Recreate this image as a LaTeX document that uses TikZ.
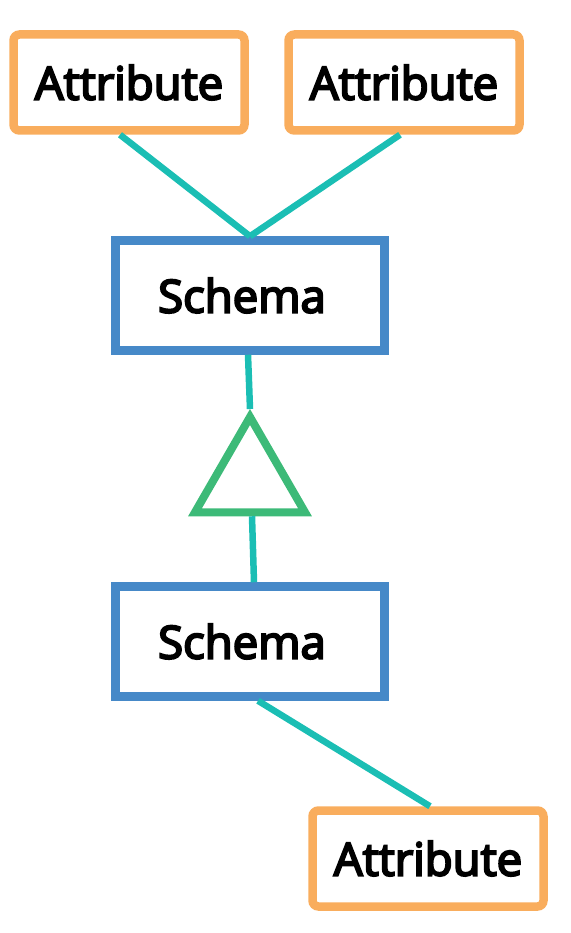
\documentclass[tikz,border=0pt]{standalone}
\usepackage{fontspec}
\setmainfont{Open Sans}
\newfontfamily\labelfont[FakeBold=4.5]{Open Sans}
\usepackage{tikz}
\usetikzlibrary{positioning,shapes.geometric}

\definecolor{attrorange}{RGB}{249,173,93}
\definecolor{schemablue}{RGB}{70,137,200}
\definecolor{linkteal}{RGB}{27,190,180}
\definecolor{isagreen}{RGB}{61,186,120}

\begin{document}
\begin{tikzpicture}[
  x=1pt, y=-1pt, font=\labelfont\fontsize{45.5}{50}\selectfont,
  attr/.style={rectangle, rounded corners=6pt, draw=attrorange, line width=8.5pt, fill=white, minimum width=231pt, minimum height=96pt, inner sep=0pt},
  schema/.style={rectangle, draw=schemablue, line width=8.5pt, fill=white, minimum width=269pt, minimum height=110pt, inner sep=0pt},
  isa/.style={regular polygon, regular polygon sides=3, draw=isagreen, line width=8pt, minimum size=127pt, inner sep=0pt},
  link/.style={draw=linkteal, line width=6.5pt}
]
\useasboundingbox (0,0) rectangle (570,933);

\node[attr] (attrA) at (129,82.5) {Attribute};
\node[attr] (attrB) at (404,82.5) {Attribute};
\node[schema] (schemaTop) at (250,295.5) {\hspace*{-16pt}Schema};
\node[isa] (isaTri) at (250,480.5) {};
\node[schema] (schemaSub) at (250,641.5) {\hspace*{-16pt}Schema};
\node[attr] (attrC) at (428,858.5) {Attribute};

\draw[link] ([xshift=-9pt]attrA.south) -- (schemaTop.north);
\draw[link] ([xshift=-4pt]attrB.south) -- (schemaTop.north);
\draw[link] ([xshift=-2pt]schemaTop.south) -- (isaTri.corner 1);
\draw[link] ([xshift=2pt]isaTri.side 2) -- ([xshift=4pt]schemaSub.north);
\draw[link] ([xshift=8pt]schemaSub.south) -- ([xshift=2pt]attrC.north);
\end{tikzpicture}
\end{document}
